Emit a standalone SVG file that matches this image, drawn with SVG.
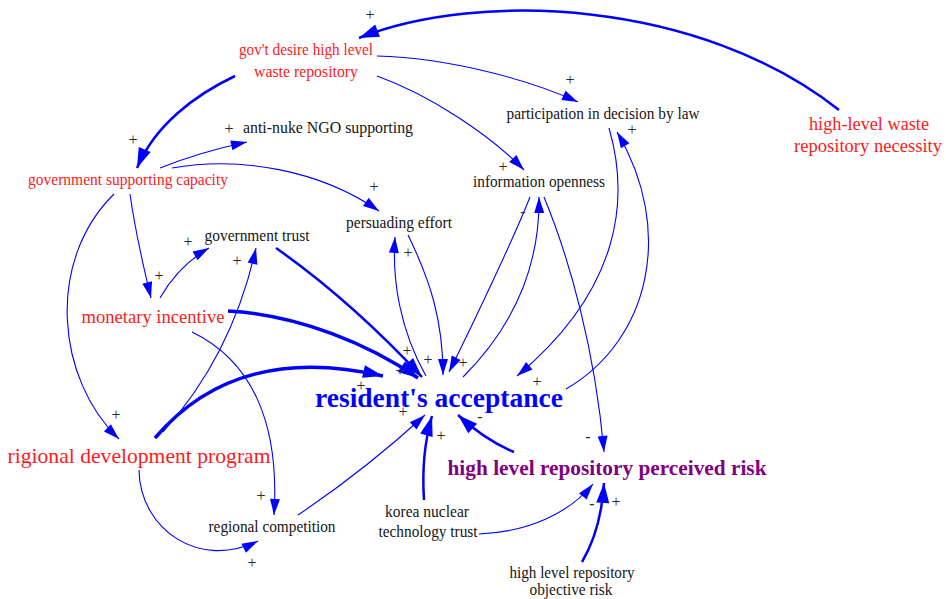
<svg xmlns="http://www.w3.org/2000/svg" width="946" height="599" viewBox="0 0 946 599">
  <style>
    .lbl { font-family: "Liberation Serif", "Times New Roman", serif; text-anchor: middle; }
    .blk { fill: #141414; font-size: 16px; }
    .red { fill: #ff1a1a; }
    .c { fill: none; stroke: #0000ff; }
    .w1 { stroke-width: 1.1; marker-end: url(#ah); }
    .w2 { stroke-width: 2.5; marker-end: url(#ahb); }
    .w3 { stroke-width: 3.5; marker-end: url(#ahb); }
    .pol { font-family: "Liberation Serif", "Times New Roman", serif; font-size: 16px; fill: #2a2a2a; text-anchor: middle; }
  </style>
  <defs>
    <marker id="ah" markerUnits="userSpaceOnUse" markerWidth="17" markerHeight="11" refX="16" refY="5" orient="auto" overflow="visible">
      <path d="M0,0 L16,5 L0,10 Z" fill="#0000ff"/>
    </marker>
    <marker id="ahb" markerUnits="userSpaceOnUse" markerWidth="21" markerHeight="14" refX="20" refY="6.5" orient="auto" overflow="visible">
      <path d="M0,0 L20,6.5 L0,13 Z" fill="#0000ff"/>
    </marker>
  </defs>
  <rect width="946" height="599" fill="#ffffff"/>

  <!-- causal links -->
  <g id="connectors">
    <path class="c w2" d="M839,110 C700,0 480,-10 359,38"/>
    <path class="c w2" d="M235,76 C195,95 155,125 137,168"/>
    <path class="c w1" d="M377,56 C450,58 530,80 578,102"/>
    <path class="c w1" d="M377,76 C430,95 490,135 524,170"/>
    <path class="c w1" d="M160,168 Q200,152 247,142"/>
    <path class="c w1" d="M172,168 C240,156 320,170 379,211"/>
    <path class="c w1" d="M130,194 C135,230 143,265 151,298"/>
    <path class="c w1" d="M114,194 C45,262 57,380 119,439"/>
    <path class="c w1" d="M160,298 C172,277 188,260 209,248"/>
    <path class="c w3" d="M228,311 C300,315 370,345 418,378"/>
    <path class="c w2" d="M276,248 Q350,300 422,377"/>
    <path class="c w1" d="M163,432 C210,380 240,320 256,248"/>
    <path class="c w3" d="M155,438 C200,385 270,350 383,376"/>
    <path class="c w1" d="M192,332 C250,360 280,420 274,515"/>
    <path class="c w1" d="M139,470 C140,530 200,570 258,541"/>
    <path class="c w1" d="M298,515 Q365,470 425,415"/>
    <path class="c w2" d="M424,500 C422,470 425,440 432,416"/>
    <path class="c w2" d="M514,452 Q485,440 458,415"/>
    <path class="c w1" d="M479,534 C530,532 570,512 593,484"/>
    <path class="c w2" d="M582,562 C595,540 602,515 604,483"/>
    <path class="c w1" d="M544,197 C570,260 595,350 604,452"/>
    <path class="c w1" d="M530,197 C515,235 475,320 449,372"/>
    <path class="c w1" d="M463,377 C510,330 540,270 539,197"/>
    <path class="c w1" d="M408,235 C430,280 443,320 443,375"/>
    <path class="c w1" d="M426,376 C400,330 392,280 395,237"/>
    <path class="c w1" d="M609,128 C630,200 620,290 517,376"/>
    <path class="c w1" d="M566,389 C650,340 675,230 617,132"/>
  </g>

  <!-- link polarity signs -->
  <g id="polarity">
    <text class="pol" x="370" y="20">+</text>
    <text class="pol" x="133" y="145">+</text>
    <text class="pol" x="570" y="85">+</text>
    <text class="pol" x="503" y="172">+</text>
    <text class="pol" x="229" y="134">+</text>
    <text class="pol" x="374" y="192">+</text>
    <text class="pol" x="159" y="281">+</text>
    <text class="pol" x="116" y="420">+</text>
    <text class="pol" x="188" y="247">+</text>
    <text class="pol" x="237" y="266">+</text>
    <text class="pol" x="408" y="258">+</text>
    <text class="pol" x="632" y="135">+</text>
    <text class="pol" x="523" y="217">-</text>
    <text class="pol" x="407" y="356">+</text>
    <text class="pol" x="400" y="376">+</text>
    <text class="pol" x="428" y="365">+</text>
    <text class="pol" x="463" y="368">+</text>
    <text class="pol" x="361" y="391">+</text>
    <text class="pol" x="403" y="417">+</text>
    <text class="pol" x="441" y="441">+</text>
    <text class="pol" x="480" y="422">-</text>
    <text class="pol" x="537" y="387">+</text>
    <text class="pol" x="588" y="442">-</text>
    <text class="pol" x="592" y="509">-</text>
    <text class="pol" x="616" y="507">+</text>
    <text class="pol" x="261" y="501">+</text>
    <text class="pol" x="252" y="568">+</text>
  </g>

  <g id="govt-desire">
    <text class="lbl red" font-size="16" x="306" y="55" textLength="134" lengthAdjust="spacingAndGlyphs">gov't desire high level</text>
    <text class="lbl red" font-size="16" x="306" y="77" textLength="104" lengthAdjust="spacingAndGlyphs">waste repository</text>
  </g>
  <g id="repository-necessity">
    <text class="lbl red" font-size="19" x="869" y="130" textLength="120" lengthAdjust="spacingAndGlyphs">high-level waste</text>
    <text class="lbl red" font-size="19" x="868" y="152" textLength="148" lengthAdjust="spacingAndGlyphs">repository necessity</text>
  </g>
  <g id="anti-nuke-ngo">
    <text class="lbl blk" x="328" y="133" textLength="170" lengthAdjust="spacingAndGlyphs">anti-nuke NGO supporting</text>
  </g>
  <g id="govt-supporting-capacity">
    <text class="lbl red" font-size="16" x="128" y="185" textLength="200" lengthAdjust="spacingAndGlyphs">government supporting capacity</text>
  </g>
  <g id="participation">
    <text class="lbl blk" x="603" y="119" textLength="193" lengthAdjust="spacingAndGlyphs">participation in decision by law</text>
  </g>
  <g id="information-openness">
    <text class="lbl blk" x="539" y="187" textLength="132" lengthAdjust="spacingAndGlyphs">information openness</text>
  </g>
  <g id="persuading-effort">
    <text class="lbl blk" x="399" y="228" textLength="106" lengthAdjust="spacingAndGlyphs">persuading effort</text>
  </g>
  <g id="government-trust">
    <text class="lbl blk" x="257" y="241" textLength="105" lengthAdjust="spacingAndGlyphs">government trust</text>
  </g>
  <g id="monetary-incentive">
    <text class="lbl red" font-size="19" x="153" y="323" textLength="143" lengthAdjust="spacingAndGlyphs">monetary incentive</text>
  </g>
  <g id="resident-acceptance">
    <text class="lbl" font-size="26.5" font-weight="bold" fill="#0000ff" x="439" y="407" textLength="248" lengthAdjust="spacingAndGlyphs">resident's acceptance</text>
  </g>
  <g id="regional-development">
    <text class="lbl red" font-size="22" x="139" y="463" textLength="263" lengthAdjust="spacingAndGlyphs">rigional development program</text>
  </g>
  <g id="perceived-risk">
    <text class="lbl" font-size="21" font-weight="bold" fill="#800080" x="607" y="475" textLength="319" lengthAdjust="spacingAndGlyphs">high level repository perceived risk</text>
  </g>
  <g id="korea-nuclear-trust">
    <text class="lbl blk" x="427" y="517" textLength="84" lengthAdjust="spacingAndGlyphs">korea nuclear</text>
    <text class="lbl blk" x="428" y="537" textLength="99" lengthAdjust="spacingAndGlyphs">technology trust</text>
  </g>
  <g id="regional-competition">
    <text class="lbl blk" x="272" y="532" textLength="127" lengthAdjust="spacingAndGlyphs">regional competition</text>
  </g>
  <g id="objective-risk">
    <text class="lbl blk" x="572" y="578" textLength="125" lengthAdjust="spacingAndGlyphs">high level repository</text>
    <text class="lbl blk" x="571" y="595" textLength="83" lengthAdjust="spacingAndGlyphs">objective risk</text>
  </g>
</svg>
